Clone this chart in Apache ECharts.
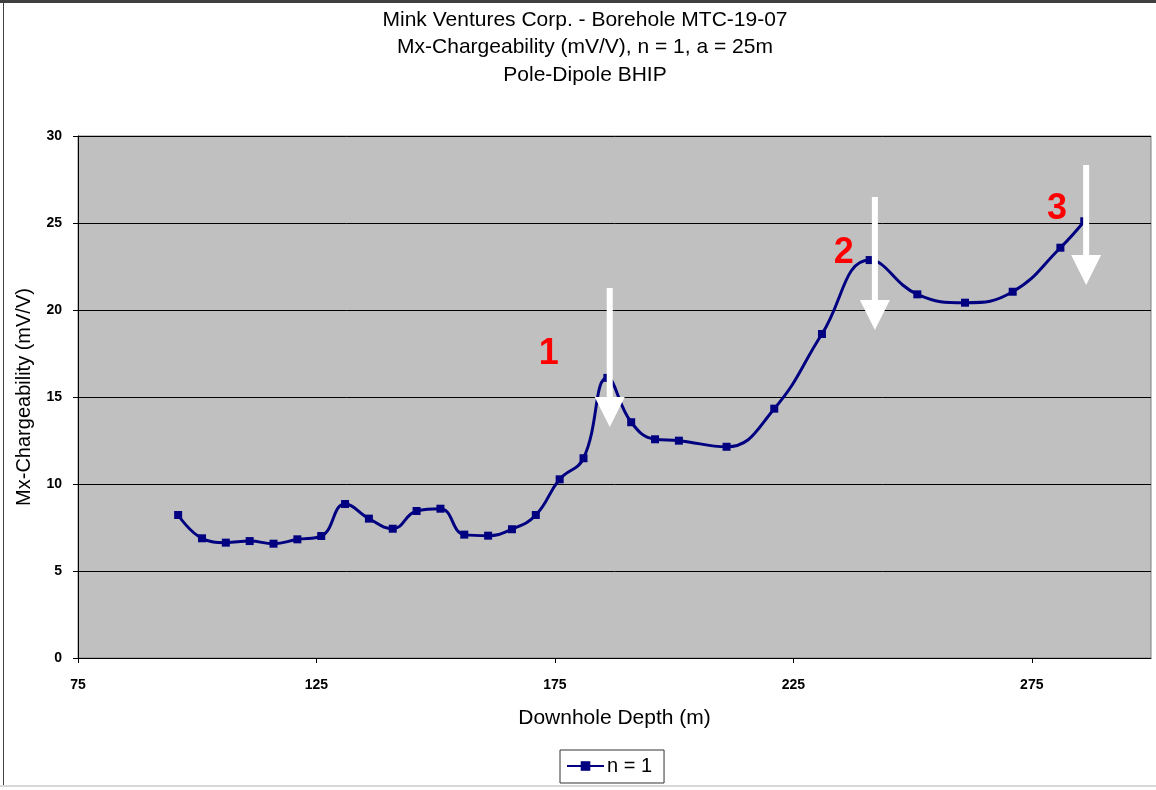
<!DOCTYPE html>
<html>
<head>
<meta charset="utf-8">
<script src="https://cdn.jsdelivr.net/npm/echarts@6/dist/echarts.min.js"></script>
<style>
html,body{margin:0;padding:0;background:#fff;}
#c{width:1156px;height:790px;}
</style>
</head>
<body>
<div id="c"></div>
<script>
// ---- data ----
const depths = [96,101,106,111,116,121,126,131,136,141,146,151,156,161,166,171,176,181,186,191,196,201,211,221,231,241,251,261,271,281,286];
const chargeability = [8.22,6.88,6.63,6.72,6.57,6.82,7.01,8.85,8.01,7.43,8.45,8.58,7.09,7.03,7.4,8.22,10.27,11.48,16.1,13.55,12.57,12.49,12.14,14.33,18.62,22.87,20.9,20.42,21.05,23.58,25.1];
const seriesName = 'n = 1';
const titleLines = ['Mink Ventures Corp. - Borehole MTC-19-07', 'Mx-Chargeability (mV/V), n = 1, a = 25m', 'Pole-Dipole BHIP'];
const xTicks = [75,125,175,225,275];
const yTicks = [0,5,10,15,20,25,30];
// annotations in data coordinates
const arrowX = [186.5, 242.1, 286.4];
const arrowTop = [21.26, 26.5, 28.33];
const arrowTip = [13.28, 18.85, 21.44];
const noteText = ['1','2','3'];
const noteX = [173.7, 235.6, 280.3];
const noteY = [17.47, 23.28, 25.8];

const FONT = '"Liberation Sans", Arial, sans-serif';
const chart = echarts.init(document.getElementById('c'), null, {renderer:'canvas'});

const option = {
  animation: false,
  backgroundColor: '#fff',
  title: {
    text: titleLines.join('\n'),
    left: 580, top: 1, textAlign: 'center',
    textStyle: {fontFamily: FONT, fontSize: 21, fontWeight: 'normal', color: '#000', lineHeight: 27.5}
  },
  grid: {left: 78, right: 5, top: 136, bottom: 132, show: true, backgroundColor: '#C0C0C0', borderColor: '#808080', borderWidth: 1},
  legend: {
    data: [seriesName],
    left: 560, top: 750,
    backgroundColor: '#fff', borderColor: '#333', borderWidth: 1,
    padding: [6, 12, 7, 6],
    itemWidth: 37, itemHeight: 12,
    textStyle: {fontFamily: FONT, fontSize: 20, color: '#000', padding: [0,0,0,-2]}
  },
  xAxis: {
    type: 'value', min: xTicks[0], max: 300, interval: 50,
    name: 'Downhole Depth (m)', nameLocation: 'middle', nameGap: 50,
    nameTextStyle: {fontFamily: FONT, fontSize: 21, color: '#000'},
    axisLine: {show: true, onZero: false, lineStyle: {color: '#000', width: 1}},
    axisTick: {show: true, length: 5, lineStyle: {color: '#000'}},
    axisLabel: {fontFamily: FONT, fontSize: 14, fontWeight: 'bold', color: '#000', margin: 20, showMaxLabel: false,
      formatter: v => xTicks.indexOf(v) >= 0 ? String(v) : ''},
    splitLine: {show: false}
  },
  yAxis: {
    type: 'value', min: yTicks[0], max: yTicks[yTicks.length - 1], interval: 5,
    name: 'Mx-Chargeability (mV/V)', nameLocation: 'middle', nameGap: 44, nameRotate: 90,
    nameTextStyle: {fontFamily: FONT, fontSize: 20, color: '#000'},
    axisLine: {show: true, lineStyle: {color: '#000', width: 1}},
    axisTick: {show: true, length: 5, lineStyle: {color: '#000'}},
    axisLabel: {fontFamily: FONT, fontSize: 14, fontWeight: 'bold', color: '#000', margin: 16},
    splitLine: {show: true, lineStyle: {color: '#000', width: 1}}
  },
  series: [{
    name: seriesName, type: 'line',
    data: depths.map((d, i) => [d, chargeability[i]]),
    smooth: 0.45,
    symbol: 'rect', symbolSize: 8,
    lineStyle: {color: '#000080', width: 3},
    itemStyle: {color: '#000080'},
    z: 3
  }]
};
chart.setOption(option);

// annotations (arrows + labels) positioned from data coordinates
const g = [];
for (let i = 0; i < arrowX.length; i++) {
  const top = chart.convertToPixel({gridIndex: 0}, [arrowX[i], arrowTop[i]]);
  const tip = chart.convertToPixel({gridIndex: 0}, [arrowX[i], arrowTip[i]]);
  const cx = top[0], headH = 30, headW = 30, shaftW = 6;
  const hy = tip[1] - headH;
  g.push({
    type: 'polygon', z: 10,
    shape: {points: [
      [cx - shaftW/2, top[1]], [cx + shaftW/2, top[1]], [cx + shaftW/2, hy], [cx + headW/2, hy],
      [cx, tip[1]], [cx - headW/2, hy], [cx - shaftW/2, hy]
    ]},
    style: {fill: '#fff'}
  });
}
for (let i = 0; i < noteText.length; i++) {
  const p = chart.convertToPixel({gridIndex: 0}, [noteX[i], noteY[i]]);
  g.push({
    type: 'text', z: 11, x: p[0], y: p[1],
    style: {text: noteText[i], fill: '#FF0000', font: 'bold 36px ' + FONT, textAlign: 'center', textVerticalAlign: 'middle'}
  });
}
// chart area frame
g.push({type: 'line', z: 20, shape: {x1: 0, y1: 1.5, x2: 1156, y2: 1.5}, style: {stroke: '#404040', lineWidth: 3}});
g.push({type: 'line', z: 20, shape: {x1: 3.5, y1: 0, x2: 3.5, y2: 786}, style: {stroke: '#404040', lineWidth: 1}});
g.push({type: 'line', z: 20, shape: {x1: 0, y1: 786, x2: 1156, y2: 786}, style: {stroke: '#d8d8d8', lineWidth: 2}});
chart.setOption({graphic: g});
</script>
</body>
</html>
